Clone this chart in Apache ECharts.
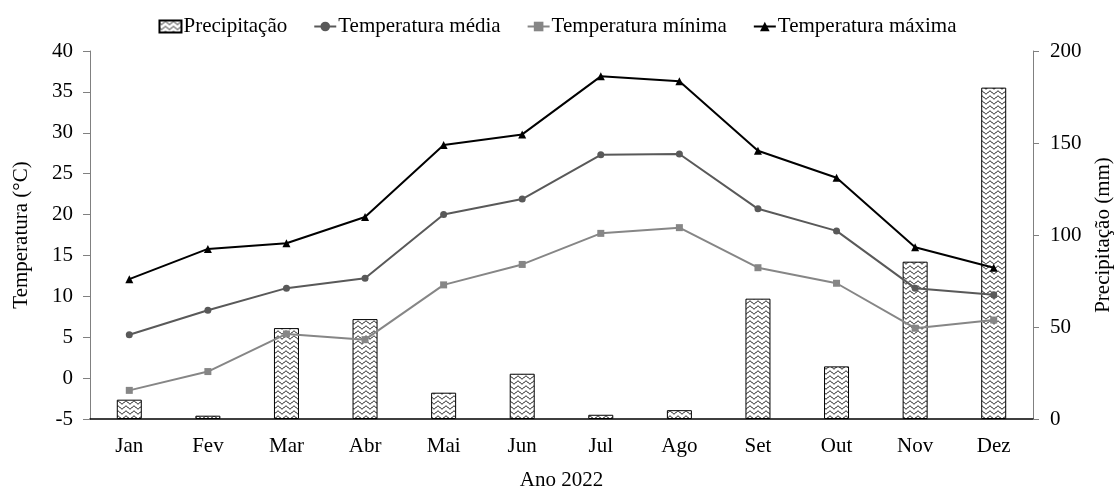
<!DOCTYPE html>
<html>
<head>
<meta charset="utf-8">
<script src="https://cdn.jsdelivr.net/npm/echarts@6/dist/echarts.min.js"></script>
<style>
html,body{margin:0;padding:0;background:#fff;}
#chart{width:1115px;height:486px;}
</style>
</head>
<body>
<div id="chart"></div>
<script>
const months = ['Jan','Fev','Mar','Abr','Mai','Jun','Jul','Ago','Set','Out','Nov','Dez'];
const precipitacao = [10.5, 1.8, 49.4, 54.3, 14.3, 24.6, 2.3, 4.8, 65.4, 28.6, 85.5, 180.1];
const tempMedia = [5.3, 8.3, 11.0, 12.2, 20.0, 21.9, 27.3, 27.4, 20.7, 18.0, 11.0, 10.2];
const tempMinima = [-1.5, 0.8, 5.4, 4.7, 11.4, 13.9, 17.7, 18.4, 13.5, 11.6, 6.1, 7.1];
const tempMaxima = [12.1, 15.8, 16.5, 19.7, 28.5, 29.8, 36.9, 36.3, 27.8, 24.5, 16.0, 13.5];

const FONT = '"Liberation Serif", "Times New Roman", serif';
const FS = 21;

function makePattern() {
  const c = document.createElement('canvas');
  c.width = 8; c.height = 5;
  const ctx = c.getContext('2d');
  ctx.fillStyle = '#fff';
  ctx.fillRect(0, 0, 8, 5);
  ctx.strokeStyle = '#000';
  ctx.lineWidth = 1;
  ctx.beginPath();
  for (let x = -0.5; x <= 8.5; x += 0.5) {
    const y = 2.5 + 1.4 * Math.sin(x / 8 * 2 * Math.PI);
    if (x === -0.5) ctx.moveTo(x, y); else ctx.lineTo(x, y);
  }
  ctx.stroke();
  return c;
}
const pattern = makePattern();

const chart = echarts.init(document.getElementById('chart'), null, {renderer: 'canvas'});
chart.setOption({
  animation: false,
  backgroundColor: '#fff',
  textStyle: {fontFamily: FONT},
  legend: {
    top: 11,
    left: 'center',
    itemGap: 26,
    itemWidth: 22,
    itemHeight: 12,
    textStyle: {fontFamily: FONT, fontSize: FS, color: '#000', padding: [0, 0, 0, -3]},
    data: [
      {name: 'Precipitação', icon: 'rect'},
      'Temperatura média', 'Temperatura mínima', 'Temperatura máxima'
    ]
  },
  grid: {left: 90, right: 82, top: 51, bottom: 67, containLabel: false, outerBoundsMode: 'none'},
  xAxis: {
    type: 'category',
    data: months,
    name: 'Ano 2022',
    nameLocation: 'middle',
    nameGap: 51,
    nameTextStyle: {fontFamily: FONT, fontSize: FS, color: '#000'},
    axisLine: {onZero: false, lineStyle: {color: '#000', width: 1.5}},
    axisTick: {show: false},
    axisLabel: {fontFamily: FONT, fontSize: FS, color: '#000', margin: 17}
  },
  yAxis: [
    {
      type: 'value', min: -5, max: 40, interval: 5,
      name: 'Temperatura (°C)',
      nameLocation: 'middle', nameGap: 58, nameRotate: 90,
      nameTextStyle: {fontFamily: FONT, fontSize: FS, color: '#000'},
      axisLine: {show: true, lineStyle: {color: '#808080'}},
      axisTick: {show: true, length: 7, lineStyle: {color: '#808080'}},
      splitLine: {show: false},
      axisLabel: {fontFamily: FONT, fontSize: FS, color: '#000', margin: 17}
    },
    {
      type: 'value', min: 0, max: 200, interval: 50,
      name: 'Precipitação (mm)',
      nameLocation: 'middle', nameGap: 60, nameRotate: 90,
      nameTextStyle: {fontFamily: FONT, fontSize: FS, color: '#000'},
      axisLine: {show: true, lineStyle: {color: '#808080'}},
      axisTick: {show: true, length: 6, lineStyle: {color: '#808080'}},
      splitLine: {show: false},
      axisLabel: {fontFamily: FONT, fontSize: FS, color: '#000', margin: 17}
    }
  ],
  series: [
    {
      name: 'Precipitação', type: 'bar', yAxisIndex: 1, barWidth: 25, z: 1,
      data: precipitacao,
      itemStyle: {color: {image: pattern, repeat: 'repeat'}, borderColor: '#000', borderWidth: 1}
    },
    {
      name: 'Temperatura média', type: 'line', yAxisIndex: 0, z: 3,
      data: tempMedia, symbol: 'circle', symbolSize: 7,
      lineStyle: {color: '#595959', width: 2},
      itemStyle: {color: '#595959'}
    },
    {
      name: 'Temperatura mínima', type: 'line', yAxisIndex: 0, z: 3,
      data: tempMinima, symbol: 'rect', symbolSize: 7,
      lineStyle: {color: '#868686', width: 2},
      itemStyle: {color: '#868686'}
    },
    {
      name: 'Temperatura máxima', type: 'line', yAxisIndex: 0, z: 4,
      data: tempMaxima, symbol: 'triangle', symbolSize: 8,
      lineStyle: {color: '#000', width: 2},
      itemStyle: {color: '#000'}
    }
  ]
});
</script>
</body>
</html>
